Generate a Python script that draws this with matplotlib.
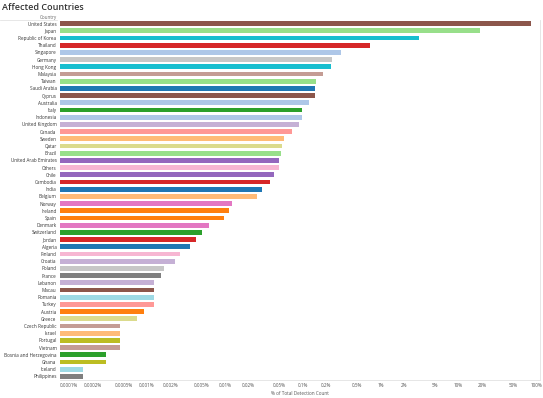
import matplotlib
matplotlib.use("Agg")
import matplotlib.pyplot as plt
from matplotlib.ticker import FixedLocator, NullLocator

countries = [
    "United States", "Japan", "Republic of Korea", "Thailand", "Singapore",
    "Germany", "Hong Kong", "Malaysia", "Taiwan", "Saudi Arabia", "Cyprus",
    "Australia", "Italy", "Indonesia", "United Kingdom", "Canada", "Sweden",
    "Qatar", "Brazil", "United Arab Emirates", "Others", "Chile", "Cambodia",
    "India", "Belgium", "Norway", "Ireland", "Spain", "Denmark", "Switzerland",
    "Jordan", "Algeria", "Finland", "Croatia", "Poland", "France", "Lebanon",
    "Macau", "Romania", "Turkey", "Austria", "Greece", "Czech Republic",
    "Israel", "Portugal", "Vietnam", "Bosnia and Herzegovina", "Ghana",
    "Iceland", "Philippines",
]

# % of total detection count
share = [
    85.0, 18.9, 3.1, 0.73, 0.31,
    0.238, 0.231, 0.182, 0.148, 0.144, 0.144,
    0.120, 0.098, 0.097, 0.090, 0.073, 0.0575,
    0.0542, 0.0526, 0.0497, 0.0497, 0.0429, 0.038,
    0.030, 0.0259, 0.0124, 0.0113, 0.0098, 0.0063, 0.0051,
    0.0043, 0.00357, 0.00266, 0.0023, 0.00166, 0.00152, 0.00123,
    0.00123, 0.00123, 0.00123, 0.00092, 0.00075, 0.00045,
    0.00045, 0.00045, 0.00045, 0.0003, 0.0003,
    0.000149, 0.000149,
]

bar_colors = [
    "#8c564b", "#98df8a", "#17becf", "#d62728", "#aec7e8",
    "#c7c7c7", "#17becf", "#c49c94", "#98df8a", "#1f77b4", "#8c564b",
    "#aec7e8", "#2ca02c", "#aec7e8", "#c5b0d5", "#ff9896", "#ffbb78",
    "#dbdb8d", "#98df8a", "#9467bd", "#f7b6d2", "#9467bd", "#d62728",
    "#1f77b4", "#ffbb78", "#e377c2", "#ff7f0e", "#ff7f0e", "#e377c2", "#2ca02c",
    "#d62728", "#1f77b4", "#f7b6d2", "#c5b0d5", "#c7c7c7", "#7f7f7f", "#c5b0d5",
    "#8c564b", "#9edae5", "#ff9896", "#ff7f0e", "#dbdb8d", "#c49c94",
    "#ffbb78", "#bcbd22", "#c49c94", "#2ca02c", "#bcbd22",
    "#9edae5", "#7f7f7f",
]

tick_vals = [0.0001, 0.0002, 0.0005, 0.001, 0.002, 0.005, 0.01, 0.02, 0.05,
             0.1, 0.2, 0.5, 1, 2, 5, 10, 20, 50, 100]
tick_labels = ["0.0001%", "0.0002%", "0.0005%", "0.001%", "0.002%", "0.005%",
               "0.01%", "0.02%", "0.05%", "0.1%", "0.2%", "0.5%", "1%", "2%",
               "5%", "10%", "20%", "50%", "100%"]

plt.rcParams["font.family"] = ["Open Sans", "DejaVu Sans"]

fig = plt.figure(figsize=(5.43, 3.98), dpi=100)
W, H = 543, 398
ax = fig.add_axes([60 / W, 1 - 380 / H, 480 / W, 360 / H])

xmin = 7.66e-5
n = len(countries)
pos = list(range(n))
ax.barh(pos, [v - xmin for v in share], left=xmin, height=0.68,
        color=bar_colors, edgecolor="none")

ax.set_xscale("log")
ax.set_xlim(xmin, 111)
ax.set_ylim(n - 0.5, -0.5)

ax.set_yticks(pos)
ax.set_yticklabels(countries, fontsize=3.3, color="#333333")
ax.xaxis.set_major_locator(FixedLocator(tick_vals))
ax.xaxis.set_minor_locator(NullLocator())
ax.set_xticklabels(tick_labels, fontsize=3.3, color="#555555")
ax.tick_params(axis="both", length=0, pad=2.5)

for s in ["top", "left"]:
    ax.spines[s].set_visible(False)
for s in ["right", "bottom"]:
    ax.spines[s].set_color("#e2e2e2")
    ax.spines[s].set_linewidth(0.6)

ax.set_xlabel("% of Total Detection Count", fontsize=3.3, color="#555555",
              labelpad=1.5)

fig.text(2 / W, 1 - 7.5 / H, "Affected Countries", fontsize=6.5,
         color="#333333", va="center", ha="left", fontweight="semibold")
fig.text(57 / W, 1 - 17 / H, "Country", fontsize=3.3, color="#666666",
         va="center", ha="right")
fig.add_artist(plt.Line2D([0, 57 / W], [1 - 20 / H, 1 - 20 / H],
                          color="#dddddd", linewidth=0.5))

fig.savefig("out.png", dpi=100)
